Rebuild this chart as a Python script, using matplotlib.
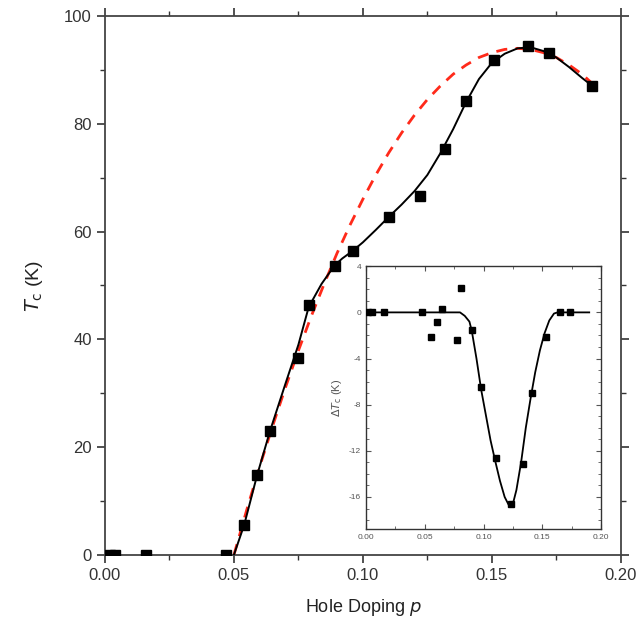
import matplotlib
matplotlib.use("Agg")
import matplotlib.pyplot as plt
from matplotlib.ticker import MultipleLocator

plt.rcParams["font.family"] = ["Liberation Sans", "DejaVu Sans"]
plt.rcParams["axes.unicode_minus"] = False

# measured Tc vs hole doping
doping = [0.002, 0.004, 0.016, 0.047, 0.054, 0.059, 0.064, 0.075, 0.079, 0.089,
          0.096, 0.110, 0.122, 0.132, 0.140, 0.151, 0.164, 0.172, 0.189]
tc = [0, 0, 0, 0, 5.6, 14.8, 23.0, 36.5, 46.3, 53.7,
      56.3, 62.7, 66.6, 75.3, 84.3, 91.8, 94.4, 93.1, 87.0]

# black guide line
guide_p = [0.050, 0.054, 0.059, 0.064, 0.070, 0.075, 0.079, 0.084, 0.089, 0.092,
           0.096, 0.100, 0.105, 0.110, 0.115, 0.120, 0.125, 0.130, 0.135, 0.140,
           0.145, 0.150, 0.155, 0.160, 0.165, 0.170, 0.175, 0.180, 0.185, 0.189]
guide_tc = [0, 5.6, 14.8, 23.0, 31.8, 39.0, 46.0, 50.3, 53.7, 55.0,
            56.4, 58.0, 60.3, 62.7, 65.0, 67.5, 70.5, 74.5, 79.0, 84.0,
            88.3, 91.3, 93.0, 94.0, 94.2, 93.5, 92.3, 90.5, 88.5, 87.0]

# red dashed parabolic curve
parab_p = [0.050, 0.055, 0.060, 0.065, 0.070, 0.075, 0.080, 0.085, 0.090, 0.095,
           0.100, 0.105, 0.110, 0.115, 0.120, 0.125, 0.130, 0.135, 0.140, 0.145,
           0.150, 0.155, 0.160, 0.165, 0.170, 0.175, 0.180, 0.185, 0.190]
parab_tc = [0, 8.4, 16.4, 23.9, 31.1, 37.9, 44.3, 50.3, 56.0, 61.2,
            66.0, 70.5, 74.6, 78.3, 81.6, 84.5, 87.0, 89.2, 90.9, 92.3,
            93.2, 93.8, 94.0, 93.8, 93.2, 92.3, 90.9, 89.2, 87.0]

# inset: Tc suppression
delta_p = [0.002, 0.005, 0.015, 0.048, 0.055, 0.060, 0.065, 0.077, 0.0805, 0.090,
           0.0975, 0.1107, 0.1235, 0.1336, 0.1415, 0.1528, 0.165, 0.174]
delta_tc = [0, 0, 0, 0, -2.1, -0.8, 0.26, -2.4, 2.1, -1.5,
            -6.5, -12.6, -16.6, -13.1, -7.0, -2.1, 0, 0]

fit_p = [0.000, 0.080, 0.084, 0.088, 0.090, 0.094, 0.098, 0.102, 0.106, 0.110,
         0.114, 0.118, 0.122, 0.125, 0.128, 0.132, 0.136, 0.140, 0.144, 0.148,
         0.152, 0.156, 0.160, 0.163, 0.190]
fit_dtc = [0, 0, -0.3, -0.8, -1.6, -4.0, -6.7, -8.9, -11.1, -12.9,
           -14.6, -16.0, -16.8, -16.6, -15.4, -13.0, -10.0, -7.5, -5.2, -3.3,
           -1.8, -0.7, -0.1, 0, 0]

fig = plt.figure(figsize=(6.4, 6.4), dpi=100)
ax = fig.add_axes([0.164, 0.133, 0.806, 0.842])

ax.plot(parab_p, parab_tc, color="#ff2a1a", lw=2.0, ls=(0, (4, 3)), zorder=2)
ax.plot(guide_p, guide_tc, color="black", lw=1.4, zorder=3)
ax.plot(doping, tc, ls="none", marker="s", ms=7, color="black", zorder=4)

ax.set_xlim(0, 0.20)
ax.set_ylim(0, 100)
ax.xaxis.set_major_locator(MultipleLocator(0.05))
ax.xaxis.set_minor_locator(MultipleLocator(0.025))
ax.yaxis.set_major_locator(MultipleLocator(20))
ax.yaxis.set_minor_locator(MultipleLocator(10))
ax.xaxis.set_major_formatter(plt.FormatStrFormatter("%.2f"))
ax.tick_params(which="both", direction="out", top=True, right=True, labelsize=12,
               colors="#333333", labelcolor="#333333")
ax.tick_params(which="major", length=6, width=1.2)
ax.tick_params(which="minor", length=3.5, width=1.0)
for sp in ax.spines.values():
    sp.set_linewidth(1.3)
    sp.set_color("#444444")
ax.set_xlabel("Hole Doping $\\it{p}$", fontsize=13, labelpad=10, color="#222222")
ax.set_ylabel("$\\it{T}_{\\rm c}$ (K)", fontsize=14, labelpad=14, color="#222222")

ins = fig.add_axes([0.572, 0.173, 0.367, 0.411])
ins.plot(fit_p, fit_dtc, color="black", lw=1.3, zorder=2)
ins.plot(delta_p, delta_tc, ls="none", marker="s", ms=5, color="black", zorder=3)
ins.set_xlim(0, 0.20)
ins.set_ylim(-18.8, 4)
ins.xaxis.set_major_locator(MultipleLocator(0.05))
ins.xaxis.set_minor_locator(MultipleLocator(0.025))
ins.yaxis.set_major_locator(MultipleLocator(4))
ins.yaxis.set_minor_locator(MultipleLocator(1))
ins.xaxis.set_major_formatter(plt.FormatStrFormatter("%.2f"))
ins.tick_params(which="both", direction="in", top=True, right=True, labelsize=6,
                labelcolor="#555555", colors="#555555")
ins.tick_params(which="major", length=3.5, width=0.8)
ins.tick_params(which="minor", length=2, width=0.6)
for sp in ins.spines.values():
    sp.set_linewidth(1.0)
    sp.set_color("#333333")
ins.set_ylabel("$\\Delta\\it{T}_{\\rm c}$ (K)", fontsize=8, color="#555555", labelpad=4)

fig.savefig("out.png", dpi=100, facecolor="white")
